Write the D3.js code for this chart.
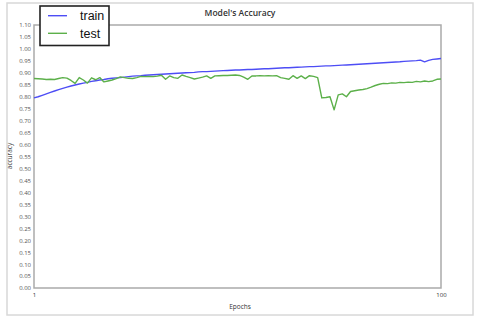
<!DOCTYPE html>
<html>
<head>
<meta charset="utf-8">
<script src="https://cdn.jsdelivr.net/npm/d3@7"></script>
<style>
  body { margin: 0; background: #fff; }
  svg text { font-family: "Open Sans", sans-serif; }
</style>
</head>
<body>
<div id="chart"></div>
<script>
// accuracy per epoch
var train = [
  0.795, 0.800, 0.806, 0.812, 0.818, 0.824, 0.830, 0.835, 0.840, 0.845,
  0.849, 0.853, 0.857, 0.860, 0.864, 0.867, 0.870, 0.872, 0.875, 0.877,
  0.879, 0.880, 0.882, 0.884, 0.886, 0.887, 0.888, 0.890, 0.891, 0.892,
  0.893, 0.894, 0.895, 0.896, 0.897, 0.898, 0.899, 0.900, 0.901, 0.902,
  0.904, 0.905, 0.905, 0.906, 0.907, 0.908, 0.909, 0.910, 0.911, 0.912,
  0.912, 0.913, 0.914, 0.914, 0.915, 0.916, 0.917, 0.917, 0.918, 0.919,
  0.920, 0.921, 0.921, 0.922, 0.923, 0.924, 0.925, 0.926, 0.926, 0.927,
  0.928, 0.929, 0.929, 0.930, 0.931, 0.932, 0.933, 0.934, 0.935, 0.936,
  0.937, 0.938, 0.939, 0.940, 0.941, 0.942, 0.943, 0.944, 0.945, 0.946,
  0.948, 0.949, 0.950, 0.951, 0.953, 0.946, 0.952, 0.956, 0.958, 0.960
];
var test = [
  0.876, 0.875, 0.874, 0.872, 0.873, 0.872, 0.876, 0.880, 0.878, 0.868,
  0.856, 0.880, 0.870, 0.857, 0.879, 0.871, 0.880, 0.862, 0.866, 0.870,
  0.876, 0.883, 0.880, 0.877, 0.876, 0.880, 0.885, 0.884, 0.885, 0.884,
  0.886, 0.890, 0.873, 0.887, 0.880, 0.877, 0.891, 0.885, 0.880, 0.874,
  0.878, 0.882, 0.887, 0.877, 0.887, 0.888, 0.889, 0.889, 0.890, 0.891,
  0.889, 0.882, 0.873, 0.887, 0.887, 0.888, 0.887, 0.888, 0.887, 0.888,
  0.880, 0.877, 0.873, 0.888, 0.877, 0.887, 0.876, 0.888, 0.885, 0.880,
  0.795, 0.797, 0.800, 0.745, 0.808, 0.812, 0.800, 0.822, 0.825, 0.828,
  0.830, 0.834, 0.840, 0.847, 0.852, 0.856, 0.855, 0.858, 0.857, 0.860,
  0.859, 0.861, 0.860, 0.864, 0.862, 0.866, 0.863, 0.866, 0.873, 0.874
];
var epochs = d3.range(1, 101);
var yTicks = d3.range(0, 23).map(function (i) { return i * 0.05; });
var xTicks = [1, 100];
var seriesNames = ["train", "test"];
var seriesColors = ["#4d4df5", "#5cb04a"];

var width = 480, height = 320;
var plotL = 34, plotR = 441, plotT = 25, plotB = 288;

var svg = d3.select("#chart").append("svg")
    .attr("width", width)
    .attr("height", height);

// outer frame
svg.append("rect")
    .attr("x", 7).attr("y", 3)
    .attr("width", 466).attr("height", 312)
    .attr("fill", "none")
    .attr("stroke", "#d8d8d8")
    .attr("stroke-width", 1.5);

var x = d3.scaleLinear().domain([1, 100]).range([plotL, plotR]);
var y = d3.scaleLinear().domain([0, 1.1]).range([plotB, plotT]);

// plot frame
svg.append("rect")
    .attr("x", plotL).attr("y", plotT)
    .attr("width", plotR - plotL).attr("height", plotB - plotT)
    .attr("fill", "none")
    .attr("stroke", "#aaaaaa")
    .attr("stroke-width", 1.5);

var yAxis = svg.append("g")
    .attr("transform", "translate(" + plotL + ",0)")
    .call(d3.axisLeft(y).tickValues(yTicks).tickFormat(d3.format(".2f")).tickSize(0).tickPadding(3));
yAxis.select(".domain").remove();
yAxis.selectAll("text")
    .attr("fill", "#555")
    .style("font-size", "6px");

var xAxis = svg.append("g")
    .attr("transform", "translate(0," + plotB + ")")
    .call(d3.axisBottom(x).tickValues(xTicks).tickFormat(d3.format("d")).tickSize(0).tickPadding(5));
xAxis.select(".domain").remove();
xAxis.selectAll("text")
    .attr("fill", "#333")
    .style("font-size", "6px");

// lines
var line = d3.line()
    .x(function (d, i) { return x(epochs[i]); })
    .y(function (d) { return y(d); });

[train, test].forEach(function (s, k) {
    svg.append("path")
        .datum(s)
        .attr("d", line)
        .attr("fill", "none")
        .attr("stroke", seriesColors[k])
        .attr("stroke-width", 1.4)
        .attr("stroke-linejoin", "round");
});

// titles
svg.append("text")
    .attr("x", 240).attr("y", 16)
    .attr("text-anchor", "middle")
    .attr("fill", "#333")
    .style("font-size", "8.5px")
    .style("font-weight", "600")
    .text("Model's Accuracy");

svg.append("text")
    .attr("x", 240).attr("y", 309)
    .attr("text-anchor", "middle")
    .attr("fill", "#333")
    .style("font-size", "6.5px")
    .text("Epochs");

svg.append("text")
    .attr("transform", "translate(12,156) rotate(-90)")
    .attr("text-anchor", "middle")
    .attr("fill", "#333")
    .style("font-size", "6.5px")
    .text("accuracy");

// legend
var legend = svg.append("g");
legend.append("rect")
    .attr("x", 40).attr("y", 6)
    .attr("width", 69).attr("height", 39.5)
    .attr("fill", "#fff")
    .attr("stroke", "#222")
    .attr("stroke-width", 1.6);
seriesNames.forEach(function (name, k) {
    var ly = 15.7 + k * 17.6;
    legend.append("line")
        .attr("x1", 48).attr("x2", 67)
        .attr("y1", ly).attr("y2", ly)
        .attr("stroke", seriesColors[k])
        .attr("stroke-width", 1.4);
    legend.append("text")
        .attr("x", 80).attr("y", ly + 4.3)
        .attr("fill", "#111")
        .style("font-family", "'Liberation Sans', Arial, sans-serif")
        .style("font-size", "12.5px")
        .text(name);
});
</script>
</body>
</html>
